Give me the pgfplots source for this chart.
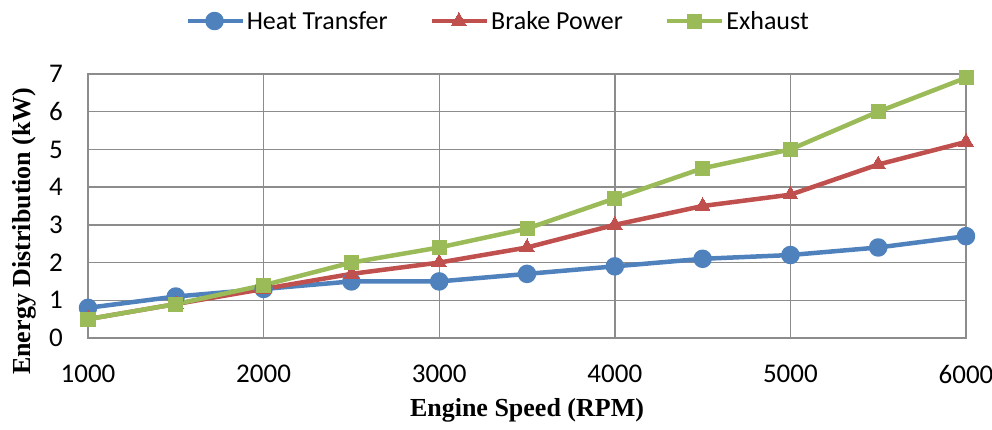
\documentclass[border=0pt]{standalone}
\usepackage{fontspec}
\setmainfont{Carlito}
\newfontfamily\timesfont{Liberation Serif}
\usepackage{pgfplots}
\pgfplotsset{compat=1.18}
\definecolor{cblue}{HTML}{4F81BD}
\definecolor{cred}{HTML}{C0504D}
\definecolor{cgreen}{HTML}{9BBB59}
\definecolor{cgrid}{HTML}{8C8C8C}
\begin{document}
\begin{tikzpicture}[x=1pt,y=1pt]
\useasboundingbox (0,0) rectangle (992,429);
\begin{axis}[
 at={(88pt,91pt)}, anchor=south west,
 scale only axis, width=878pt, height=264pt,
 xmin=1000, xmax=6000, ymin=0, ymax=7,
 xtick={1000,2000,3000,4000,5000,6000}, ytick={0,1,2,3,4,5,6,7},
 grid=major, major grid style={cgrid, line width=1.4pt},
 axis line style={cgrid, line width=1.4pt},
 major tick length=0pt,
 clip=false,
 /pgf/number format/assume math mode=true,
 /pgf/number format/1000 sep={},
 tick label style={font=\fontsize{27}{27}\selectfont, inner sep=0pt},
 xticklabel style={anchor=center, yshift=-36pt},
 yticklabel style={anchor=east, xshift=-25pt},
 xlabel={Engine Speed (RPM)},
 ylabel={Energy Distribution (kW)},
 xlabel style={at={([yshift=-72pt]axis description cs:0.5,0)}, anchor=center, font=\timesfont\bfseries\fontsize{26}{26}\selectfont},
 ylabel style={at={([xshift=-64pt]axis description cs:0,0.405)}, anchor=center, rotate=0, font=\timesfont\bfseries\fontsize{26}{26}\selectfont},
 legend columns=3,
 legend style={draw=none, fill=none, at={([yshift=53pt]axis description cs:0.467,1)}, anchor=center,
   font=\fontsize{26}{26}\selectfont,
   nodes={inner sep=2pt},
   /tikz/every even column/.append style={column sep=40pt}},
 legend image code/.code={\draw[mark repeat=2, mark phase=2] plot coordinates {(0pt,0pt) (27pt,0pt) (55pt,0pt)};},
 every axis plot/.append style={line width=4.5pt, line join=round},
]
\addplot[cblue, mark=*, mark size=7pt, mark options={solid}] coordinates {
(1000,0.8) (1500,1.1) (2000,1.3) (2500,1.5) (3000,1.5) (3500,1.7) (4000,1.9) (4500,2.1) (5000,2.2) (5500,2.4) (6000,2.7)};
\addlegendentry{Heat Transfer}
\addplot[cred, mark=triangle*, mark size=8.5pt, mark options={solid, line width=0pt}] coordinates {
(1000,0.5) (1500,0.9) (2000,1.3) (2500,1.7) (3000,2.0) (3500,2.4) (4000,3.0) (4500,3.5) (5000,3.8) (5500,4.6) (6000,5.2)};
\addlegendentry{Brake Power}
\addplot[cgreen, mark=square*, mark size=7pt, mark options={solid, line width=0pt}] coordinates {
(1000,0.5) (1500,0.9) (2000,1.4) (2500,2.0) (3000,2.4) (3500,2.9) (4000,3.7) (4500,4.5) (5000,5.0) (5500,6.0) (6000,6.9)};
\addlegendentry{Exhaust}
\end{axis}
\end{tikzpicture}
\end{document}
